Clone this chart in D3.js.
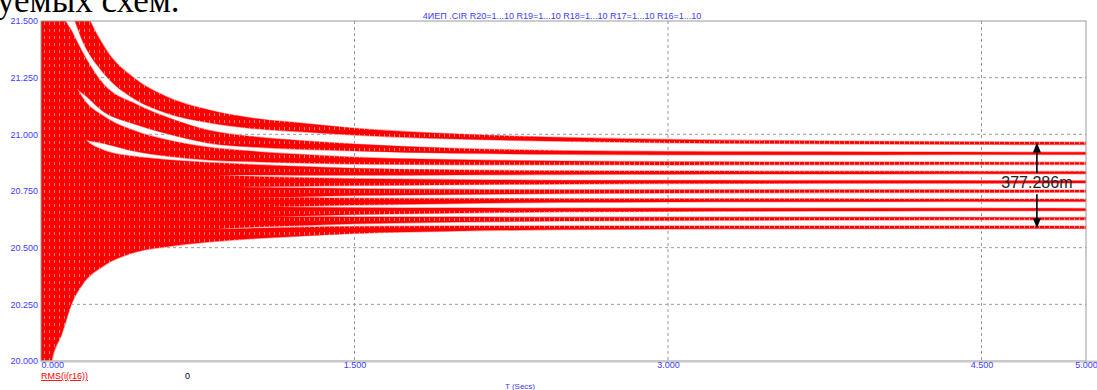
<!DOCTYPE html>
<html>
<head>
<meta charset="utf-8">
<script src="https://cdn.jsdelivr.net/npm/d3@7"></script>
<style>
    body { margin: 0; background: #fff; }
    .tick text { font-family: "Liberation Sans", Arial, sans-serif; }
</style>
</head>
<body>
<script>
//sample times (secs)
var times = [0, 0.02, 0.05, 0.1, 0.15, 0.2, 0.3, 0.45, 0.6, 0.8, 1.0, 1.25, 1.5, 2.0, 2.5, 3.0, 4.0, 5.0];

//half height of the ripple band around each RMS curve
var ripple = [1.5, 0.7, 0.28, 0.17, 0.12, 0.09, 0.06, 0.045, 0.036, 0.028, 0.023, 0.019, 0.015, 0.011, 0.008, 0.007, 0.006, 0.005];

//RMS(i(r16)) band centres, one array per parameter step
var run1  = [22.5, 22.4, 22.1, 21.8, 21.65, 21.5, 21.33, 21.2, 21.13, 21.08, 21.05, 21.03, 21.012, 20.99, 20.978, 20.97, 20.963, 20.96];
var run2  = [22.3, 22.1, 21.7, 21.38, 21.33, 21.27, 21.16, 21.09, 21.04, 20.99, 20.968, 20.953, 20.942, 20.927, 20.92, 20.917, 20.916, 20.916];
var run3  = [22.0, 21.9, 21.55, 21.25, 21.13, 21.07, 21.02, 20.97, 20.94, 20.915, 20.903, 20.892, 20.884, 20.877, 20.874, 20.872, 20.872, 20.872];
var run4  = [21.7, 21.6, 21.3, 21.05, 20.95, 20.9, 20.87, 20.857, 20.852, 20.848, 20.844, 20.839, 20.835, 20.832, 20.831, 20.831, 20.831, 20.831];
var run5  = [21.4, 21.3, 21.05, 20.9, 20.84, 20.815, 20.8, 20.797, 20.795, 20.794, 20.792, 20.79, 20.789, 20.789, 20.789, 20.79, 20.79, 20.79];
var run6  = [21.1, 21.0, 20.85, 20.77, 20.75, 20.745, 20.743, 20.743, 20.743, 20.743, 20.744, 20.744, 20.745, 20.746, 20.747, 20.748, 20.749, 20.749];
var run7  = [20.8, 20.75, 20.7, 20.68, 20.685, 20.69, 20.693, 20.695, 20.697, 20.698, 20.7, 20.702, 20.703, 20.706, 20.708, 20.709, 20.709, 20.709];
var run8  = [20.5, 20.45, 20.5, 20.58, 20.61, 20.625, 20.638, 20.645, 20.65, 20.653, 20.656, 20.659, 20.661, 20.664, 20.666, 20.667, 20.668, 20.668];
var run9  = [20.2, 20.2, 20.3, 20.45, 20.51, 20.545, 20.57, 20.59, 20.6, 20.608, 20.613, 20.617, 20.62, 20.624, 20.626, 20.627, 20.628, 20.628];
var run10 = [19.9, 20.0, 20.27, 20.29, 20.38, 20.43, 20.48, 20.525, 20.54, 20.553, 20.562, 20.571, 20.578, 20.585, 20.588, 20.589, 20.59, 20.59];

var runs = [run1, run2, run3, run4, run5, run6, run7, run8, run9, run10];

//axis ticks
var xTicks = [0, 1.5, 3.0, 4.5, 5.0];
var yTicks = [20.0, 20.25, 20.5, 20.75, 21.0, 21.25, 21.5];

//texts
var titleText = "4ИЕП .CIR R20=1...10 R19=1...10 R18=1...10 R17=1...10 R16=1...10";
var legendText = "RMS(i(r16))";
var cursorText = "0";
var deltaText = "377.286m";
var deltaTime = 4.765; //where the measuring arrow sits
var pageText = "уемых схем.";

window.onload = function(){
    var blue = "#3c3cff";

    var svg = d3.select("body")
        .append("svg")
        .attr("width", 1097)
        .attr("height", 390);

    //scales
    var x = d3.scaleLinear()
        .domain([0, 5])
        .range([41, 1086]);

    var y = d3.scaleLinear()
        .domain([20, 21.5])
        .range([361, 21]);

    //clipped piece of the document text above the plot
    svg.append("text")
        .attr("x", -3)
        .attr("y", 12)
        .style("font-family", "'Liberation Serif', 'Times New Roman', serif")
        .style("font-size", "35px")
        .style("fill", "#000")
        .text(pageText);

    var defs = svg.append("defs");
    defs.append("clipPath")
        .attr("id", "plotClip")
        .append("rect")
        .attr("x", 41)
        .attr("y", 21)
        .attr("width", 1045)
        .attr("height", 340);

    //striped fill to hint at the fast ripple inside each band
    var stripes = defs.append("pattern")
        .attr("id", "ripplePattern")
        .attr("patternUnits", "userSpaceOnUse")
        .attr("width", 5)
        .attr("height", 7);
    stripes.append("rect")
        .attr("width", 5)
        .attr("height", 7)
        .style("fill", "#ff0000");
    stripes.append("rect")
        .attr("x", 4)
        .attr("y", 1)
        .attr("width", 1)
        .attr("height", 3)
        .style("fill", "#ff7a7a");

    //dashed grid
    var grid = svg.append("g").attr("class", "grid");
    grid.selectAll(".vgrid")
        .data(xTicks.filter(function(d){ return d > 0 && d < 5; }))
        .enter()
        .append("line")
        .attr("x1", function(d){ return x(d); })
        .attr("x2", function(d){ return x(d); })
        .attr("y1", y(21.5))
        .attr("y2", y(20));
    grid.selectAll(".hgrid")
        .data(yTicks.filter(function(d){ return d > 20 && d < 21.5; }))
        .enter()
        .append("line")
        .attr("x1", x(0))
        .attr("x2", x(5))
        .attr("y1", function(d){ return y(d); })
        .attr("y2", function(d){ return y(d); });
    grid.selectAll("line")
        .style("stroke", "#9a9a9a")
        .style("stroke-width", 1)
        .style("stroke-dasharray", "3,3");

    //ripple bands, one per run
    var band = d3.area()
        .x(function(d){ return x(d.t); })
        .y0(function(d){ return y(d.c - d.r); })
        .y1(function(d){ return y(d.c + d.r); })
        .curve(d3.curveMonotoneX);

    function bandPath(run){
        return band(times.map(function(t, i){
            return {t: t, c: run[i], r: ripple[i]};
        }));
    }

    var bands = svg.append("g")
        .attr("clip-path", "url(#plotClip)");

    //pink fringe drawn first so it only shows against white
    bands.selectAll(".fringe")
        .data(runs)
        .enter()
        .append("path")
        .attr("class", "fringe")
        .attr("d", bandPath)
        .style("fill", "#ff8c8c")
        .style("stroke", "#ff9e9e")
        .style("stroke-width", 1.4);

    bands.selectAll(".band")
        .data(runs)
        .enter()
        .append("path")
        .attr("class", "band")
        .attr("d", bandPath)
        .style("fill", "url(#ripplePattern)");

    //plot frame
    svg.append("rect")
        .attr("x", 41)
        .attr("y", 21)
        .attr("width", 1045)
        .attr("height", 340)
        .style("fill", "none")
        .style("stroke", "#9a9a9a")
        .style("stroke-width", 1);
    svg.append("line")
        .attr("x1", 41).attr("x2", 1097)
        .attr("y1", 361.5).attr("y2", 361.5)
        .style("stroke", "#c8c8c8")
        .style("stroke-width", 2);

    //axes
    var yAxis = svg.append("g")
        .attr("transform", "translate(40,0)")
        .call(d3.axisLeft(y).tickValues(yTicks).tickFormat(d3.format(".3f")).tickSize(0).tickPadding(2));
    var xAxis = svg.append("g")
        .attr("transform", "translate(0,361)")
        .call(d3.axisBottom(x).tickValues(xTicks).tickFormat(d3.format(".3f")).tickSize(0).tickPadding(1));
    svg.selectAll(".domain").remove();
    svg.selectAll(".tick text")
        .style("fill", blue)
        .style("font-size", "9px");
    xAxis.selectAll(".tick text")
        .filter(function(d){ return d === 0; })
        .attr("text-anchor", "start");

    //title and axis name
    svg.append("text")
        .attr("x", 562)
        .attr("y", 19)
        .attr("text-anchor", "middle")
        .style("font-family", "'Liberation Sans', Arial, sans-serif")
        .style("font-size", "9px")
        .style("fill", blue)
        .text(titleText);
    svg.append("text")
        .attr("x", 520)
        .attr("y", 389)
        .attr("text-anchor", "middle")
        .style("font-family", "'Liberation Sans', Arial, sans-serif")
        .style("font-size", "8px")
        .style("fill", blue)
        .text("T (Secs)");

    //legend line under the axis
    svg.append("text")
        .attr("x", 41)
        .attr("y", 379)
        .style("font-family", "'Liberation Sans', Arial, sans-serif")
        .style("font-size", "9px")
        .style("fill", "#ff0000")
        .style("text-decoration", "underline")
        .text(legendText);
    svg.append("text")
        .attr("x", 185)
        .attr("y", 379)
        .style("font-family", "'Liberation Sans', Arial, sans-serif")
        .style("font-size", "9px")
        .style("fill", "#000")
        .text(cursorText);

    //measuring arrow between first and last run
    var ax = x(deltaTime);
    var yTop = y(run1[run1.length - 1]);
    var yBot = y(run10[run10.length - 1]);
    var yMid = (yTop + yBot) / 2 - 2;
    var arrow = svg.append("g").attr("class", "arrow");
    arrow.append("line")
        .attr("x1", ax).attr("x2", ax)
        .attr("y1", yTop + 8).attr("y2", yMid - 10);
    arrow.append("line")
        .attr("x1", ax).attr("x2", ax)
        .attr("y1", yMid + 11).attr("y2", yBot - 8);
    arrow.selectAll("line")
        .style("stroke", "#000")
        .style("stroke-width", 1.6);
    arrow.append("path")
        .attr("d", "M" + ax + "," + (yTop - 1) + "L" + (ax - 4) + "," + (yTop + 9) + "L" + (ax + 4) + "," + (yTop + 9) + "Z");
    arrow.append("path")
        .attr("d", "M" + ax + "," + (yBot + 1) + "L" + (ax - 4) + "," + (yBot - 9) + "L" + (ax + 4) + "," + (yBot - 9) + "Z");
    arrow.selectAll("path").style("fill", "#000");
    arrow.append("text")
        .attr("x", ax)
        .attr("y", yMid + 5)
        .attr("text-anchor", "middle")
        .style("font-family", "'Liberation Sans', Arial, sans-serif")
        .style("font-size", "16px")
        .style("fill", "#222")
        .text(deltaText);
};
</script>
</body>
</html>
